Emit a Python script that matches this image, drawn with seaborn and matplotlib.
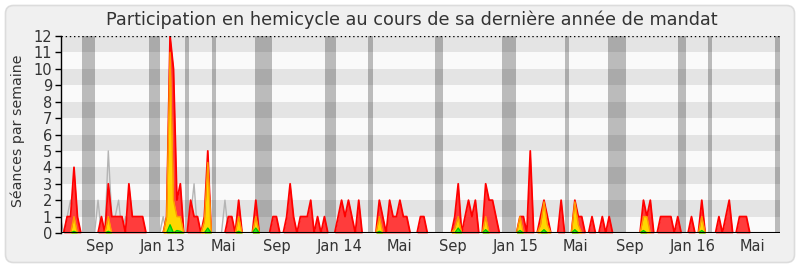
import matplotlib
matplotlib.use("Agg")
import matplotlib.pyplot as plt
from matplotlib.patches import FancyBboxPatch
from matplotlib.transforms import IdentityTransform
import seaborn as sns
import numpy as np
import pandas as pd

sns.set_theme(style="white")
plt.rcParams["font.family"] = ["DejaVu Sans"]

# ---- data (one value per week) ----
presences = [
    0, 0, 1, 1, 4, 1, 0, 0, 0, 0,
    0, 0, 1, 0, 3, 1, 1, 1, 1, 0,
    3, 1, 1, 1, 1, 0, 0, 0, 0, 0,
    0, 1, 12, 10, 2, 3, 0, 0, 2, 1,
    1, 0, 1, 5, 0, 0, 0, 0, 0, 1,
    1, 0, 2, 0, 0, 0, 0, 2, 0, 0,
    0, 0, 1, 1, 0, 0, 1, 3, 1, 0,
    1, 1, 1, 2, 0, 1, 0, 1, 0, 0,
    0, 1, 2, 1, 2, 1, 0, 2, 0, 0,
    0, 0, 0, 2, 1, 0, 2, 1, 1, 2,
    1, 1, 0, 0, 0, 1, 1, 0, 0, 0,
    0, 0, 0, 0, 0, 1, 3, 0, 1, 2,
    1, 2, 0, 0, 3, 2, 2, 1, 0, 0,
    0, 0, 0, 0, 1, 1, 0, 5, 0, 0,
    1, 2, 1, 0, 0, 0, 2, 0, 0, 0,
    2, 1, 1, 0, 0, 1, 0, 0, 1, 0,
    1, 0, 0, 0, 0, 0, 0, 0, 0, 0,
    2, 1, 2, 0, 0, 1, 1, 1, 1, 0,
    1, 0, 0, 0, 1, 0, 0, 2, 0, 0,
    0, 0, 1, 0, 1, 2, 0, 0, 1, 1,
    1, 0, 0, 0, 0, 0, 0, 0, 0, 0,
]
interventions = [
    0, 0, 0, 0, 1, 0, 0, 0, 0, 0,
    0, 0, 0, 0, 1, 0, 0, 0, 0, 0,
    0, 0, 0, 0, 0, 0, 0, 0, 0, 0,
    0, 1, 11, 2, 1, 1, 0, 0, 0, 0,
    0, 0, 0.7, 4.3, 0, 0, 0, 0, 0, 0,
    0, 0, 1, 0, 0, 0, 0, 1, 0, 0,
    0, 0, 0, 0, 0, 0, 0, 0, 0, 0,
    0, 0, 0, 0, 0, 0, 0, 0, 0, 0,
    0, 0, 0, 0, 0, 0, 0, 0, 0, 0,
    0, 0, 0, 1, 0, 0, 0, 0, 0, 0,
    0, 0, 0, 0, 0, 0, 0, 0, 0, 0,
    0, 0, 0, 0, 0, 0.3, 1, 0, 0, 0,
    0, 0, 0, 0, 1, 0, 0, 0, 0, 0,
    0, 0, 0, 0, 1, 0, 0, 0, 0, 0,
    0.5, 1.9, 0.5, 0, 0, 0, 0, 0, 0, 0,
    1.9, 0.5, 0, 0, 0, 0, 0, 0, 0, 0,
    0, 0, 0, 0, 0, 0, 0, 0, 0, 0,
    1, 1, 0, 0, 0, 0, 0, 0, 0, 0,
    0, 0, 0, 0, 0, 0, 0, 1, 0, 0,
    0, 0, 0, 0, 0, 0, 0, 0, 0, 0,
    0, 0, 0, 0, 0, 0, 0, 0, 0, 0,
]
questions = [
    0, 0, 0, 0, 0.1, 0, 0, 0, 0, 0,
    0, 0, 0, 0, 0.1, 0, 0, 0, 0, 0,
    0, 0, 0, 0, 0, 0, 0, 0, 0, 0,
    0, 0, 0.5, 0, 0.15, 0.1, 0, 0, 0, 0,
    0, 0, 0, 0.3, 0, 0, 0, 0, 0, 0,
    0, 0, 0.1, 0, 0, 0, 0, 0.3, 0, 0,
    0, 0, 0, 0, 0, 0, 0, 0, 0, 0,
    0, 0, 0, 0, 0, 0, 0, 0, 0, 0,
    0, 0, 0, 0, 0, 0, 0, 0, 0, 0,
    0, 0, 0, 0.1, 0, 0, 0, 0, 0, 0,
    0, 0, 0, 0, 0, 0, 0, 0, 0, 0,
    0, 0, 0, 0, 0, 0, 0.3, 0, 0, 0,
    0, 0, 0, 0, 0.2, 0, 0, 0, 0, 0,
    0, 0, 0, 0, 0.15, 0, 0, 0, 0, 0,
    0, 0.2, 0, 0, 0, 0, 0, 0, 0, 0,
    0.2, 0, 0, 0, 0, 0, 0, 0, 0, 0,
    0, 0, 0, 0, 0, 0, 0, 0, 0, 0,
    0.15, 0, 0, 0, 0, 0, 0, 0, 0, 0,
    0, 0, 0, 0, 0, 0, 0, 0.15, 0, 0,
    0, 0, 0, 0, 0, 0, 0, 0, 0, 0,
    0, 0, 0, 0, 0, 0, 0, 0, 0, 0,
]
mediane = [
    1, 0, 1, 2, 1, 0, 0, 0, 0, 0,
    0, 2, 0, 0, 5, 1, 1, 2, 0, 1,
    0, 0, 0, 0, 0, 0, 0, 0, 0, 0,
    1, 0, 0, 0, 0, 0, 0, 0, 1, 3,
    0, 0, 0, 0, 0, 0, 0, 0, 2, 0,
] + [0] * 160

vacances_debut = [6.33, 25.86, 36.36, 44.14, 56.85, 77.08, 89.62, 109.15,
                  128.86, 147.06, 159.68, 180.09, 188.83, 208.45]
vacances_fin = [10.2, 29.07, 37.6, 45.39, 61.81, 80.29, 91.08, 111.57,
                132.77, 148.31, 164.93, 182.33, 190.0, 210.5]

mois_labels = ["Sep", "Jan 13", "Mai", "Sep", "Jan 14", "Mai",
               "Sep", "Jan 15", "Mai", "Sep", "Jan 16", "Mai"]
mois_pos = [11.6, 29.9, 47.7, 63.1, 81.3, 99.0, 114.4, 132.8, 150.3,
            166.1, 184.2, 201.9]

title = "Participation en hemicycle au cours de sa dernière année de mandat"
ylabel = "Séances par semaine"

df = pd.DataFrame({
    "semaine": np.arange(len(presences)),
    "presences": presences,
    "interventions": interventions,
    "questions": questions,
    "mediane": mediane,
})

# ---- figure ----
W, H = 800, 267
fig = plt.figure(figsize=(W / 100, H / 100), dpi=100, facecolor="white")
frame = FancyBboxPatch((5.5, 4.5), 789, 257, boxstyle="round,pad=0,rounding_size=8",
                       transform=IdentityTransform(), facecolor="#f0f0f0",
                       edgecolor="#dcdcdc", lw=1.2, zorder=-5)
fig.patches.append(frame)

ax = fig.add_axes([61 / W, 1 - 233 / H, (780 - 61) / W, (233 - 36) / H])
ax.set_zorder(1)
ax.set_facecolor("#fafafa")

for k in range(12):
    ax.axhspan(k, k + 1, color="#e4e4e4" if k % 2 else "#fafafa", lw=0, zorder=0)
for s, e in zip(vacances_debut, vacances_fin):
    ax.axvspan(s, e, color="black", alpha=0.25, lw=0, zorder=1)

sns.lineplot(data=df, x="semaine", y="mediane", ax=ax, color="#b4b4b4", lw=1, zorder=2)

ax.fill_between(df["semaine"], df["presences"], color="#ff3c3c", lw=0, zorder=3)
sns.lineplot(data=df, x="semaine", y="presences", ax=ax, color="#ff0000", lw=1.3, zorder=4)
ax.fill_between(df["semaine"], df["interventions"], color="#ffd700", lw=0, zorder=5)
sns.lineplot(data=df, x="semaine", y="interventions", ax=ax, color="#ff9900", lw=1, zorder=6)
ax.fill_between(df["semaine"], df["questions"], color="#22ee22", lw=0, zorder=7)
sns.lineplot(data=df, x="semaine", y="questions", ax=ax, color="#00cc00", lw=1, zorder=8)

ax.axhline(0, color="black", lw=1.5, zorder=9)
ax.axhline(12, color="black", lw=1, ls=(0, (1, 2)), zorder=9)

ax.set_xlim(0.21, 209.8)
ax.set_ylim(0, 12)
ax.set_yticks(range(0, 13))
ax.set_yticklabels([str(v) for v in range(0, 13)])
ax.set_xticks(mois_pos)
ax.set_xticklabels(mois_labels)
ax.tick_params(axis="y", length=4, width=1, color="black", pad=2.5,
               labelsize=10.5, labelcolor="#333333", left=True)
ax.tick_params(axis="x", length=0, pad=4, labelsize=10.5, labelcolor="#333333")
ax.set_xlabel("")
ax.set_ylabel("")
for sp in ["top", "right", "bottom"]:
    ax.spines[sp].set_visible(False)
ax.spines["left"].set_color("black")
ax.spines["left"].set_linewidth(1)
ax.grid(False)

fig.text(412 / W, 1 - 20 / H, title, ha="center", va="center", fontsize=12.7, color="#333333")
fig.text(18 / W, 1 - 131 / H, ylabel, ha="center", va="center", rotation=90,
         fontsize=10.2, color="#333333")

fig.savefig("out.png", dpi=100, facecolor="white")
